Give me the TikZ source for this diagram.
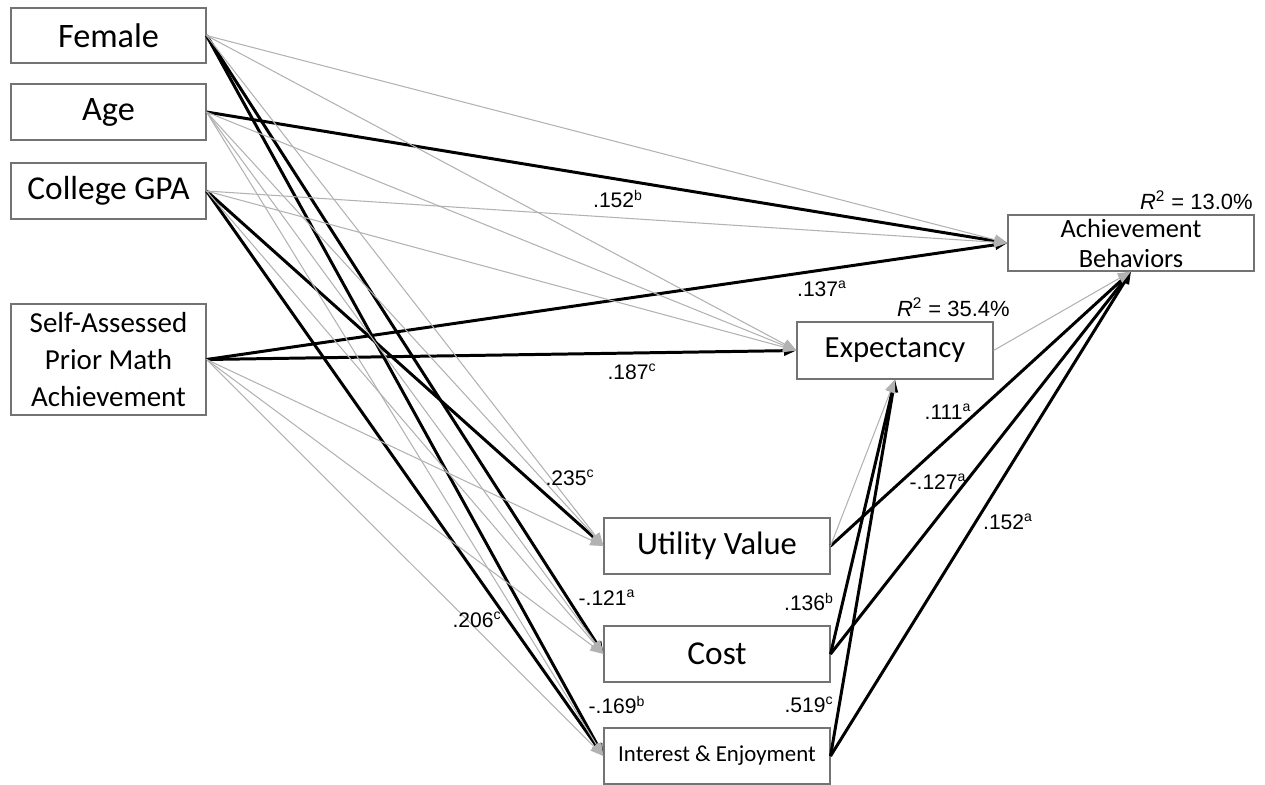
\documentclass[tikz,border=0pt]{standalone}
\usepackage{fontspec}
\setmainfont{Liberation Sans}
\newfontfamily\boxfont{Carlito}
\usetikzlibrary{arrows.meta}

\begin{document}
\begin{tikzpicture}[scale=0.2]
	\tikzstyle{every node}+=[inner sep=0pt]
	\tikzstyle{var}=[draw=black!55, line width=0.6pt, align=center]
	\tikzstyle{ns}=[draw=black!30, line width=0.6pt, -{Triangle[length=7.5pt,width=6pt]}]
	\tikzstyle{sig}=[draw=black, line width=1.7pt, -{Triangle[length=7pt,width=5.5pt]}]
	\tikzstyle{coef}=[font=\fontsize{12}{14}\selectfont]
	\useasboundingbox (0,0) rectangle (126.5,-78.4);
	\node [var, minimum width=3.9cm, minimum height=1.1cm, font=\boxfont\fontsize{19.5}{22}\selectfont] (female) at (10.85,-3.55) {Female};
	\node [var, minimum width=3.9cm, minimum height=1.12cm, font=\boxfont\fontsize{19.5}{22}\selectfont] (age) at (10.85,-11.2) {Age};
	\node [var, minimum width=3.9cm, minimum height=1.12cm, font=\boxfont\fontsize{19}{22}\selectfont] (gpa) at (10.85,-19.1) {College GPA};
	\node [var, minimum width=3.9cm, minimum height=2.22cm, font=\boxfont\fontsize{16.5}{21}\selectfont] (prior) at (10.85,-35.95) {Self-Assessed\\Prior Math\\Achievement};
	\node [var, minimum width=4.92cm, minimum height=1.12cm, font=\boxfont\fontsize{15}{17}\selectfont] (achieve) at (113.1,-24.3) {\raisebox{-2pt}{Achievement}\\\raisebox{-2pt}{Behaviors}};
	\node [var, minimum width=3.92cm, minimum height=1.14cm, font=\boxfont\fontsize{17.5}{20}\selectfont] (expect) at (89.5,-35.05) {Expectancy};
	\node [var, minimum width=4.52cm, minimum height=1.12cm, font=\boxfont\fontsize{18.5}{21}\selectfont] (utility) at (71.7,-54.6) {Utility Value};
	\node [var, minimum width=4.52cm, minimum height=1.12cm, font=\boxfont\fontsize{19}{22}\selectfont] (cost) at (71.7,-65.4) {Cost};
	\node [var, minimum width=4.52cm, minimum height=1.12cm, font=\boxfont\fontsize{13}{16}\selectfont] (interest) at (71.7,-75.6) {\raisebox{-2pt}{Interest \& Enjoyment}};
	\node [anchor=east, font=\fontsize{12.5}{14}\selectfont] (r2achieve) at (125.3,-20) {\textit{R}\textsuperscript{2} = 13.0\%};
	\node [anchor=east, font=\fontsize{12.5}{14}\selectfont] (r2expect) at (101,-30.7) {\textit{R}\textsuperscript{2} = 35.4\%};
	\draw [sig] (female.east) -- (cost.west);
	\draw [sig] (female.east) -- (interest.west);
	\draw [sig] (age.east) -- (achieve.west);
	\draw [sig] (gpa.east) -- (utility.west);
	\draw [sig] (gpa.east) -- (interest.west);
	\draw [sig] (prior.east) -- (achieve.west);
	\draw [sig] (prior.east) -- (expect.west);
	\draw [sig] (utility.east) -- (achieve.south);
	\draw [sig] (cost.east) -- (achieve.south);
	\draw [sig] (cost.east) -- (expect.south);
	\draw [sig] (interest.east) -- (achieve.south);
	\draw [sig] (interest.east) -- (expect.south);
	\draw [ns] (female.east) -- (achieve.west);
	\draw [ns] (female.east) -- (expect.west);
	\draw [ns] (female.east) -- (utility.west);
	\draw [ns] (age.east) -- (expect.west);
	\draw [ns] (age.east) -- (utility.west);
	\draw [ns] (age.east) -- (cost.west);
	\draw [ns] (age.east) -- (interest.west);
	\draw [ns] (gpa.east) -- (achieve.west);
	\draw [ns] (gpa.east) -- (expect.west);
	\draw [ns] (gpa.east) -- (cost.west);
	\draw [ns] (prior.east) -- (utility.west);
	\draw [ns] (prior.east) -- (cost.west);
	\draw [ns] (prior.east) -- (interest.west);
	\draw [ns] (utility.east) -- (expect.south);
	\draw [ns] (expect.east) -- (achieve.south);
	\node [coef] (c1) at (61.8,-19.9) {.152\textsuperscript{b}};
	\node [coef] (c2) at (82.2,-28.9) {.137\textsuperscript{a}};
	\node [coef] (c3) at (63.2,-37.2) {.187\textsuperscript{c}};
	\node [coef] (c4) at (57,-47.8) {.235\textsuperscript{c}};
	\node [coef] (c5) at (60.7,-59.8) {-.121\textsuperscript{a}};
	\node [coef] (c6) at (47.7,-62) {.206\textsuperscript{c}};
	\node [coef] (c7) at (61.7,-70.5) {-.169\textsuperscript{b}};
	\node [coef] (c8) at (80.9,-60.2) {.136\textsuperscript{b}};
	\node [coef] (c9) at (80.9,-70.5) {.519\textsuperscript{c}};
	\node [coef] (c10) at (94.8,-41.2) {.111\textsuperscript{a}};
	\node [coef] (c11) at (93.8,-48.2) {-.127\textsuperscript{a}};
	\node [coef] (c12) at (100.8,-52.2) {.152\textsuperscript{a}};
\end{tikzpicture}
\end{document}
